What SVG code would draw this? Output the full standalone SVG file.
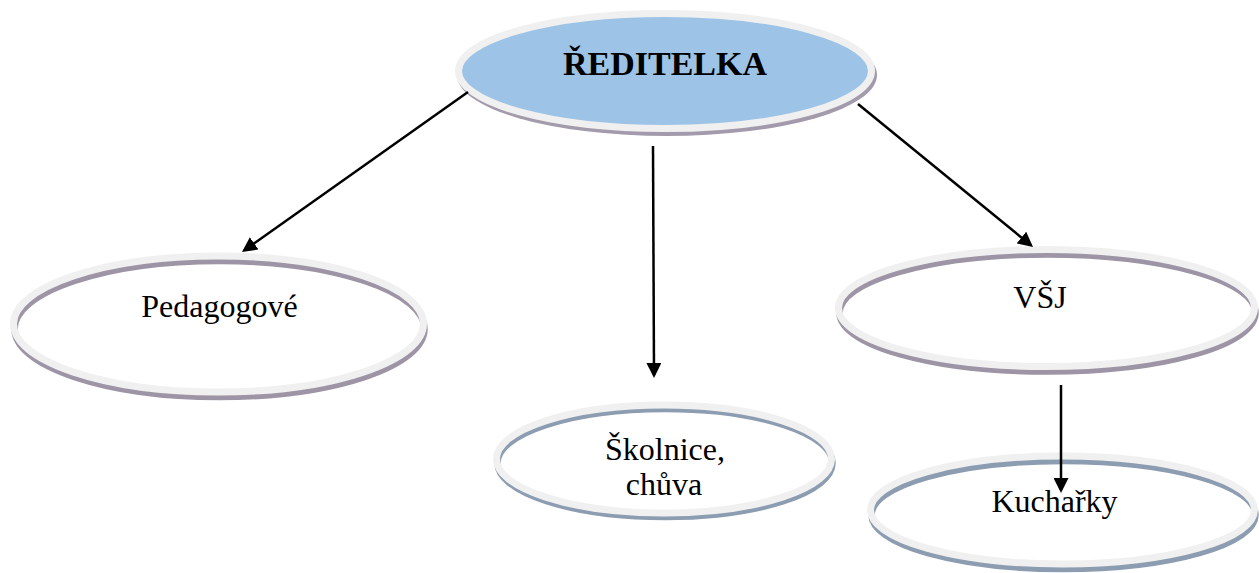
<svg xmlns="http://www.w3.org/2000/svg" width="1259" height="573" viewBox="0 0 1259 573">
<style>
  .ring { fill: none; stroke: #f0f0f0; stroke-width: 7; }
  .shP { fill: none; stroke: #9d94a6; stroke-width: 6.5; }
  .shB { fill: none; stroke: #8c9cb1; stroke-width: 6.5; }
  .lbl { font-family: "Liberation Serif", "Times New Roman", serif; font-size: 32px; fill: #000; text-anchor: middle; }
  .conn { stroke: #000; stroke-width: 2.5; fill: none; }
</style>
<defs>
  <marker id="arr" viewBox="0 0 15 15" refX="12" refY="7.5" markerWidth="15" markerHeight="15" markerUnits="userSpaceOnUse" orient="auto">
    <path d="M0,0 L15,7.5 L0,15 Z" fill="#000"/>
  </marker>
</defs>
<rect width="1259" height="573" fill="#ffffff"/>

<g id="node-reditelka">
  <ellipse cx="667" cy="75" rx="210" ry="61" fill="#a39bac"/>
  <ellipse cx="665" cy="71" rx="206.5" ry="57.5" fill="#9dc3e6" stroke="#f0f0f0" stroke-width="7"/>
  <text x="665" y="75" class="lbl" style="font-weight:bold;font-size:34px">ŘEDITELKA</text>
</g>

<g id="node-pedagogove">
  <ellipse class="shP" cx="219.5" cy="329" rx="205" ry="68"/>
  <ellipse class="ring" cx="218.5" cy="324" rx="205" ry="68"/>
  <text x="219.5" y="317" class="lbl">Pedagogové</text>
</g>

<g id="node-skolnice">
  <ellipse class="shB" cx="665" cy="463" rx="167.5" ry="54"/>
  <ellipse class="ring" cx="664" cy="459" rx="167.5" ry="54"/>
  <text x="665" y="460" class="lbl">Školnice,</text>
  <text x="664" y="495" class="lbl">chůva</text>
</g>

<g id="node-vsj">
  <ellipse class="shP" cx="1047.5" cy="313" rx="208" ry="58.5"/>
  <ellipse class="ring" cx="1046.5" cy="308" rx="208" ry="58.5"/>
  <text x="1040" y="308" class="lbl">VŠJ</text>
</g>

<g id="node-kucharky">
  <ellipse class="shB" cx="1063.5" cy="515" rx="192" ry="54"/>
  <ellipse class="ring" cx="1062.5" cy="510" rx="192" ry="54"/>
  <text x="1054.5" y="512" class="lbl">Kuchařky</text>
</g>

<g id="connectors">
  <line class="conn" x1="468" y1="92" x2="244.4" y2="250.3" marker-end="url(#arr)"/>
  <line class="conn" x1="653" y1="146" x2="654" y2="375" marker-end="url(#arr)"/>
  <line class="conn" x1="858" y1="104" x2="1030.7" y2="245.1" marker-end="url(#arr)"/>
  <line class="conn" x1="1061" y1="385" x2="1061" y2="490" marker-end="url(#arr)"/>
</g>
</svg>
